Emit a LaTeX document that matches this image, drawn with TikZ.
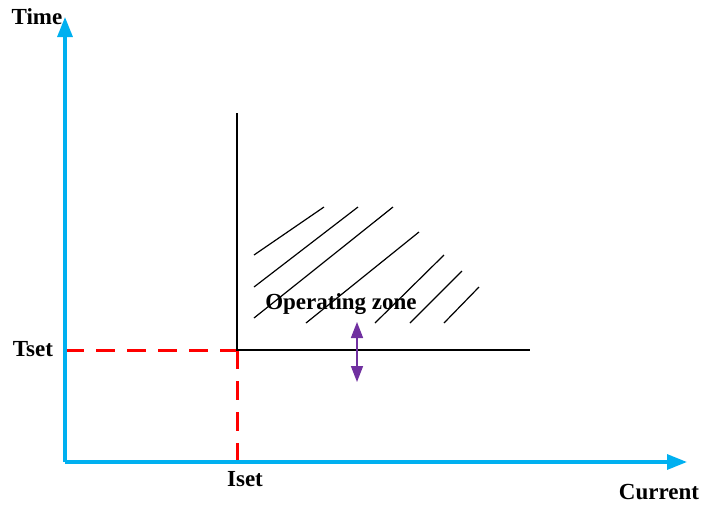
\documentclass[tikz,border=0pt]{standalone}
\usepackage{fontspec}
\setmainfont{Liberation Serif}
\usetikzlibrary{arrows.meta}
\definecolor{axisblue}{RGB}{0,176,240}
\definecolor{zonepurple}{RGB}{112,48,160}
\begin{document}
\begin{tikzpicture}[x=1pt, y=-1pt, font=\fontsize{23}{26}\selectfont\bfseries,
      axisarr/.style={-{Triangle[length=20pt,width=15pt]}, line width=3.2pt, axisblue},
      setline/.style={red, line width=3pt, dash pattern=on 19pt off 12pt},
      zoneline/.style={black, line width=1.3pt},
      hatchline/.style={black, line width=1.2pt},
      movearr/.style={{Triangle[length=16pt,width=12pt]}-{Triangle[length=16pt,width=12pt]}, line width=1.6pt, zonepurple},
      axislabel/.style={inner sep=0pt}]
    \useasboundingbox (0,0) rectangle (702,504);
    \coordinate (o)    at (65,462);
    \coordinate (ytop) at (65,17);
    \coordinate (xend) at (687,462);
    \coordinate (tset) at (65,350);
    \coordinate (iset) at (237,462);
    \coordinate (corner) at (237,350);
    \coordinate (ztop) at (237,113);
    \coordinate (zright) at (530,350);
    \coordinate (up) at (357,322);
    \coordinate (down) at (357,382);
    \draw[setline] (tset) -- (corner);
    \draw[setline] (corner) -- (iset);
    \draw[axisarr] (o) -- (ytop);
    \draw[axisarr] (o) -- (xend);
    \draw[zoneline] (ztop) -- (corner) -- (zright);
    \foreach \xa/\ya/\xb/\yb in {254/255/324/207, 254/287/358/207, 254/318/393/207,
        306/323/419/232, 375/323/444/255, 410/323/462/271, 444/323/479/287}
      \draw[hatchline] (\xa,\ya) -- (\xb,\yb);
    \node[axislabel] (zone) at (341,304) {Operating zone};
    \draw[movearr] (up) -- (down);
    \node[axislabel] (time) at (37,17) {Time};
    \node[axislabel] (tsetlbl) at (33,349) {Tset};
    \node[axislabel] (isetlbl) at (245,479) {Iset};
    \node[axislabel] (current) at (659,492) {Current};
  \end{tikzpicture}
\end{document}
